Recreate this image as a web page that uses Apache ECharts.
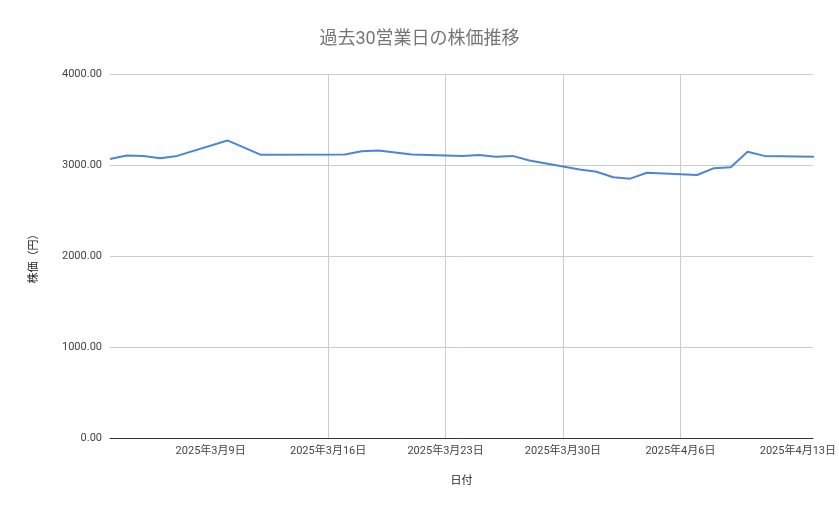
<!DOCTYPE html>
<html><head><meta charset="utf-8">
<script src="https://cdn.jsdelivr.net/npm/echarts@6/dist/echarts.min.js"></script>
<style>html,body{margin:0;padding:0;background:#fff}#c{width:839px;height:519px}</style>
</head><body><div id="c"></div>
<script>
const dates = ['2025-03-03','2025-03-04','2025-03-05','2025-03-06','2025-03-07','2025-03-10','2025-03-12','2025-03-17','2025-03-18','2025-03-19','2025-03-21','2025-03-24','2025-03-25','2025-03-26','2025-03-27','2025-03-28','2025-03-31','2025-04-01','2025-04-02','2025-04-03','2025-04-04','2025-04-07','2025-04-08','2025-04-09','2025-04-10','2025-04-11','2025-04-14'];
const prices = [3065,3105,3100,3075,3100,3270,3112,3115,3150,3160,3115,3100,3110,3090,3100,3050,2950,2925,2865,2850,2915,2890,2965,2975,3145,3100,3090];
const tickDates = ['2025-03-09','2025-03-16','2025-03-23','2025-03-30','2025-04-06','2025-04-13'];
const yTicks = [0,1000,2000,3000,4000];
const base = Date.UTC(2025,2,3);
const dayIdx = s => Math.round((Date.parse(s+'T00:00:00Z')-base)/86400000);
const fmt = d => { const t=new Date(base+d*86400000); return t.getUTCFullYear()+'年'+(t.getUTCMonth()+1)+'月'+t.getUTCDate()+'日'; };
const ticks = tickDates.map(dayIdx);
const font = 'Roboto, "Noto Sans CJK JP", sans-serif';
const ch = echarts.init(document.getElementById('c'));
ch.setOption({
  title:{text:'過去30営業日の株価推移',left:'center',top:26,textStyle:{color:'#757575',fontSize:18,fontWeight:'normal',fontFamily:font}},
  grid:{left:110,right:26,top:74,bottom:81},
  xAxis:{type:'value',min:0,max:41.9,name:'日付',nameLocation:'middle',nameGap:38,
    nameTextStyle:{color:'#222',fontSize:11,fontFamily:font},
    axisLine:{lineStyle:{color:'#333'}},axisTick:{show:false,customValues:ticks},
    axisLabel:{customValues:ticks,formatter:v=>fmt(v),color:'#444',fontSize:11,fontFamily:font,margin:8},
    splitLine:{show:true,showMaxLine:false,showMinLine:false,lineStyle:{color:'#cccccc'}}},
  yAxis:{type:'value',min:0,max:4000,interval:1000,name:'株価（円）',nameLocation:'middle',nameGap:70,nameRotate:90,
    nameTextStyle:{color:'#222',fontSize:11,fontFamily:font},
    axisLine:{show:false},axisTick:{show:false},
    axisLabel:{formatter:v=>v.toFixed(2),color:'#444',fontSize:11,fontFamily:font},
    splitLine:{lineStyle:{color:'#cccccc'}}},
  series:[{type:'line',data:dates.map((d,i)=>[dayIdx(d),prices[i]]),showSymbol:false,
    lineStyle:{color:'#4a86d8',width:2},itemStyle:{color:'#4a86d8'}}],
  animation:false
});
</script></body></html>
